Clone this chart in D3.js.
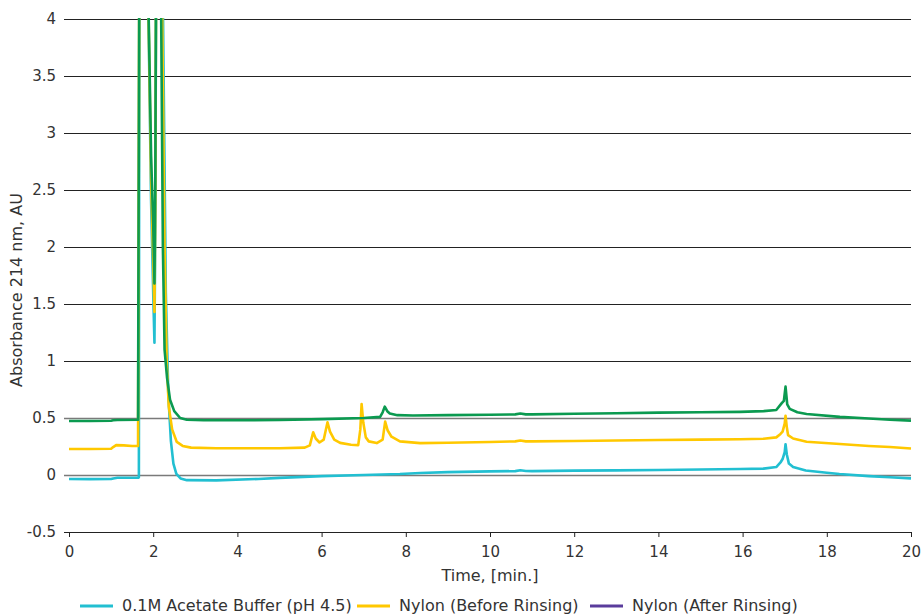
<!DOCTYPE html>
<html>
<head>
<meta charset="utf-8">
<script src="https://cdn.jsdelivr.net/npm/d3@7"></script>
<style>
  body { margin: 0; background: #fff; }
  svg text { font-family: "DejaVu Sans", Verdana, sans-serif; fill: #333; }
</style>
</head>
<body>
<div id="chart"></div>
<script>
// Series names and colours
const seriesNames = ["0.1M Acetate Buffer (pH 4.5)", "Nylon (Before Rinsing)", "Nylon (After Rinsing)"];
const lineColors = ["#22bfd1", "#ffc800", "#0b9a50"];
const legendColors = ["#22bfd1", "#ffc800", "#5a3c9c"];

// Tick values
const xTicks = [0, 2, 4, 6, 8, 10, 12, 14, 16, 18, 20];
const yTicks = [-0.5, 0, 0.5, 1, 1.5, 2, 2.5, 3, 3.5, 4];

// [time (min), absorbance (AU)], values above 4 are off scale
const bufferData = [[0,-0.035],[0.5,-0.036],[1.0,-0.035],[1.05,-0.03],[1.15,-0.024],[1.64,-0.024],[1.66,-0.02],
  [1.67,4.5],[1.87,4.5],[1.95,2.4],[2.0,1.6],[2.03,1.16],[2.05,2.2],[2.07,4.5],[2.22,4.5],[2.3,1.6],[2.36,0.7],
  [2.42,0.3],[2.48,0.1],[2.55,0.01],[2.65,-0.03],[2.8,-0.045],[3.5,-0.047],[4.5,-0.035],[5,-0.025],[6,-0.01],
  [7,0.0],[7.86,0.009],[8.34,0.018],[9,0.025],[10,0.032],[10.6,0.034],[10.72,0.042],[10.85,0.035],[11,0.034],
  [12,0.038],[13,0.041],[14,0.044],[15,0.048],[15.94,0.053],[16.5,0.056],[16.8,0.07],[16.9,0.11],[16.95,0.14],
  [17.0,0.2],[17.02,0.27],[17.05,0.18],[17.1,0.1],[17.2,0.07],[17.5,0.04],[18,0.02],[18.3,0.009],[19,-0.01],
  [19.5,-0.02],[20,-0.03]];

const beforeData = [[0,0.228],[0.5,0.228],[1.0,0.23],[1.05,0.245],[1.12,0.262],[1.3,0.26],[1.5,0.255],[1.64,0.255],
  [1.67,4.5],[1.87,4.5],[1.95,2.6],[2.0,1.9],[2.03,1.43],[2.05,2.4],[2.07,4.5],[2.2,4.5],[2.27,2.0],[2.32,1.0],
  [2.37,0.6],[2.45,0.4],[2.56,0.29],[2.7,0.255],[2.9,0.24],[3.5,0.235],[4.5,0.234],[5,0.235],[5.6,0.24],
  [5.72,0.26],[5.8,0.375],[5.86,0.32],[5.95,0.285],[6.05,0.31],[6.14,0.462],[6.2,0.38],[6.3,0.31],[6.44,0.282],
  [6.7,0.265],[6.87,0.262],[6.92,0.4],[6.95,0.623],[6.99,0.46],[7.05,0.33],[7.12,0.295],[7.31,0.28],[7.45,0.31],
  [7.51,0.468],[7.57,0.39],[7.66,0.336],[7.86,0.295],[8.34,0.28],[9,0.283],[10,0.29],[10.6,0.295],[10.72,0.302],
  [10.85,0.295],[11,0.295],[12,0.298],[13,0.302],[14,0.307],[15,0.31],[15.94,0.313],[16.5,0.318],[16.8,0.33],
  [16.9,0.36],[16.95,0.38],[17.0,0.45],[17.02,0.52],[17.05,0.42],[17.08,0.35],[17.2,0.32],[17.52,0.292],
  [18.31,0.272],[19,0.255],[19.5,0.245],[20,0.233]];

const afterData = [[0,0.474],[0.5,0.474],[1.0,0.476],[1.05,0.48],[1.15,0.482],[1.64,0.485],[1.67,4.5],[1.87,4.5],
  [1.95,2.8],[2.0,2.2],[2.03,1.68],[2.05,2.6],[2.07,4.5],[2.18,4.5],[2.23,2.0],[2.27,1.1],[2.33,0.85],[2.4,0.66],
  [2.5,0.56],[2.64,0.5],[2.8,0.485],[3.2,0.48],[4,0.48],[5,0.482],[6,0.49],[7,0.5],[7.39,0.51],[7.45,0.55],
  [7.5,0.6],[7.56,0.56],[7.62,0.54],[7.8,0.525],[8.17,0.522],[9,0.525],[10,0.528],[10.6,0.532],[10.72,0.54],
  [10.85,0.532],[11,0.532],[12,0.537],[13,0.542],[14,0.547],[15,0.55],[15.94,0.554],[16.5,0.56],[16.8,0.57],
  [16.93,0.63],[16.98,0.65],[17.02,0.775],[17.06,0.62],[17.12,0.58],[17.3,0.55],[17.52,0.535],[18.31,0.51],
  [19,0.495],[19.5,0.485],[20,0.477]];

const seriesData = [bufferData, beforeData, afterData];

const [w, h] = [924, 615];
const [plotLeft, plotRight, plotTop, plotBottom] = [69, 911, 19, 532];

const xScale = d3.scaleLinear().domain([0, 20]).range([plotLeft, plotRight]);
const yScale = d3.scaleLinear().domain([-0.5, 4]).range([plotBottom, plotTop]);

const svg = d3.select("#chart")
  .append("svg")
  .attr("width", w)
  .attr("height", h);

// Gridlines + y labels (axis drawn from the right edge, ticks run across)
const yAxis = d3.axisLeft(yScale)
  .tickValues(yTicks)
  .tickSize(plotRight - 64)
  .tickPadding(8)
  .tickFormat(d => d);

svg.append("g")
  .attr("class", "y-axis")
  .attr("transform", `translate(${plotRight},0)`)
  .call(yAxis)
  .call(g => g.select(".domain").remove())
  .call(g => g.selectAll(".tick line")
    .attr("stroke", d => (d === 0 || d === 0.5) ? "#7a7a7a" : "#222")
    .attr("stroke-width", d => (d === 0 || d === 0.5) ? 1.6 : 1))
  .call(g => g.selectAll(".tick text").style("font-size", "15px"));

// x axis
const xAxis = d3.axisBottom(xScale)
  .tickValues(xTicks)
  .tickSize(5)
  .tickPadding(9);

svg.append("g")
  .attr("class", "x-axis")
  .attr("transform", `translate(0,${plotBottom})`)
  .call(xAxis)
  .call(g => g.select(".domain").remove())
  .call(g => g.selectAll(".tick line").attr("stroke", "#222"))
  .call(g => g.selectAll(".tick text").style("font-size", "15px"));

// Clip so off-scale peaks end at the top
svg.append("clipPath")
  .attr("id", "plot-clip")
  .append("rect")
  .attr("x", plotLeft - 2)
  .attr("y", plotTop - 1)
  .attr("width", plotRight - plotLeft + 4)
  .attr("height", plotBottom - plotTop + 1);

const line = d3.line()
  .x(d => xScale(d[0]))
  .y(d => yScale(d[1]));

svg.append("g")
  .attr("clip-path", "url(#plot-clip)")
  .selectAll("path")
  .data(seriesData)
  .enter()
  .append("path")
  .attr("d", d => line(d))
  .attr("fill", "none")
  .attr("stroke", (d, i) => lineColors[i])
  .attr("stroke-width", 2.6)
  .attr("stroke-linejoin", "round");

// Axis titles
svg.append("text")
  .text("Time, [min.]")
  .attr("x", (plotLeft + plotRight) / 2)
  .attr("y", 581)
  .attr("text-anchor", "middle")
  .style("font-size", "16px");

svg.append("text")
  .text("Absorbance 214 nm, AU")
  .attr("transform", "translate(22,290) rotate(-90)")
  .attr("text-anchor", "middle")
  .style("font-size", "16px");

// Legend
const legendX = [80, 357, 590];
const legend = svg.append("g").attr("class", "legend");
seriesNames.forEach((name, i) => {
  legend.append("line")
    .attr("x1", legendX[i])
    .attr("x2", legendX[i] + 33)
    .attr("y1", 606)
    .attr("y2", 606)
    .attr("stroke", legendColors[i])
    .attr("stroke-width", 3);
  legend.append("text")
    .text(name)
    .attr("x", legendX[i] + 42)
    .attr("y", 611)
    .style("font-size", "16px");
});
</script>
</body>
</html>
